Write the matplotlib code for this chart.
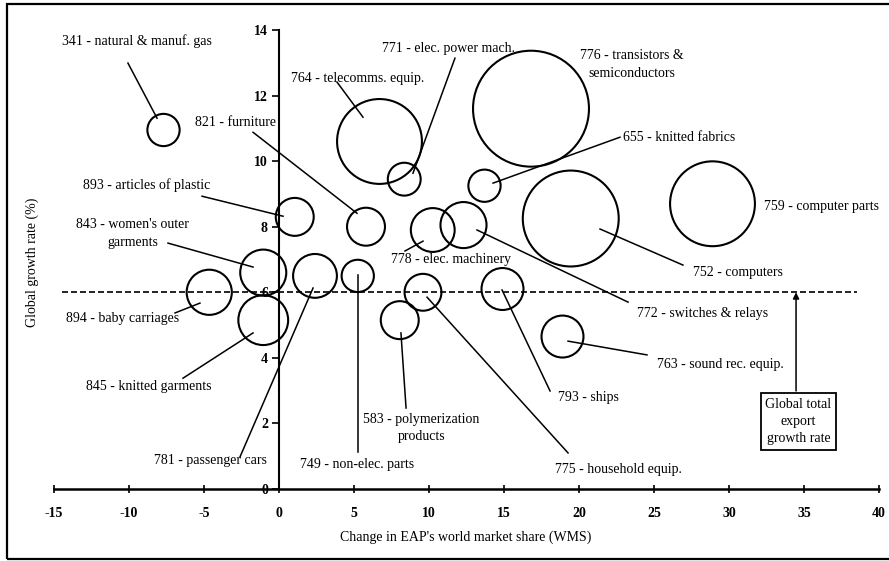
import matplotlib.pyplot as plt
import numpy as np

plt.rcParams['font.family'] = ['Liberation Serif', 'DejaVu Serif']
plt.rcParams['axes.unicode_minus'] = False

# product groups (SITC) - change in EAP world market share vs global growth rate
products = ['341 - natural & manuf. gas', '764 - telecomms. equip.', '771 - elec. power mach.',
            '776 - transistors &\nsemiconductors', '655 - knitted fabrics', '893 - articles of plastic',
            '821 - furniture', "843 - women's outer\ngarments", '894 - baby carriages',
            '845 - knitted garments', '781 - passenger cars', '749 - non-elec. parts',
            '583 - polymerization\nproducts', '775 - household equip.', '793 - ships',
            '763 - sound rec. equip.', '772 - switches & relays', '778 - elec. machinery',
            '752 - computers', '759 - computer parts']
wms_change = [-7.7, 6.7, 8.35, 16.8, 13.7, 1.05, 5.8, -1.05, -4.65,
              -1.05, 2.4, 5.25, 8.05, 9.6, 14.9, 18.9, 12.3, 10.25, 19.45, 28.9]
growth_rate = [10.95, 10.6, 9.45, 11.6, 9.25, 8.3, 8.0, 6.6, 6.0,
               5.15, 6.5, 6.5, 5.15, 6.0, 6.1, 4.65, 8.05, 7.9, 8.25, 8.7]
bubble_size = [0.26, 1.8, 0.27, 3.36, 0.26, 0.36, 0.36, 0.53, 0.51,
               0.62, 0.48, 0.26, 0.36, 0.34, 0.44, 0.44, 0.53, 0.48, 2.3, 1.8]
global_rate = 6.0

# label layout: text centre, leader start, leader end (data units)
label_pos = [(-9.45, 13.66), (5.25, 12.53), (11.3, 13.45), (23.55, 12.95), (26.7, 10.73),
             (-8.85, 9.27), (-2.9, 11.19), (-9.75, 7.8), (-10.4, 5.21), (-8.7, 3.14),
             (-4.6, 0.88), (5.2, 0.76), (9.5, 1.86), (22.6, 0.58), (20.6, 2.8),
             (29.4, 3.81), (28.25, 5.34), (11.45, 7.01), (30.6, 6.59), (36.4, 8.63)]
leaders = [((-10.07, 12.99), (-8.13, 11.31)), ((3.87, 12.41), (5.6, 11.34)),
           ((11.73, 13.14), (8.93, 9.63)), None, ((22.73, 10.73), (14.27, 9.33)),
           ((-5.13, 8.93), (0.27, 8.32)), ((-1.73, 10.88), (5.2, 8.41)),
           ((-7.4, 7.5), (-1.73, 6.77)), ((-6.93, 5.37), (-5.27, 5.67)),
           ((-6.4, 3.38), (-1.73, 4.76)), ((-2.6, 0.98), (2.27, 6.13)),
           ((5.27, 1.13), (5.27, 6.52)), ((8.47, 2.47), (8.13, 4.76)),
           ((19.27, 1.1), (9.87, 5.85)), ((18.07, 2.99), (14.87, 6.07)),
           ((24.53, 4.09), (19.27, 4.51)), ((23.27, 5.7), (13.2, 7.9)),
           ((8.4, 7.26), (9.6, 7.56)), ((26.93, 6.83), (21.4, 7.93)), None]

fig = plt.figure(figsize=(8.89, 5.61), dpi=100)
ax = fig.add_axes([54/889, 72/561, 825/889, 459/561])
ax.set_xlim(-15, 40)
ax.set_ylim(0, 14)

# bubble radius in px ~ sqrt(size)
r_pt = np.sqrt(np.array(bubble_size) * 1000) * 0.72
ax.scatter(wms_change, growth_rate, s=(2 * r_pt) ** 2, facecolors='none',
           edgecolors='black', linewidths=1.5, clip_on=False, zorder=3)

ax.plot([-14.5, 38.5], [global_rate, global_rate], color='black', lw=1.2,
        ls=(0, (3.6, 1.8)), zorder=2)

for name, (tx, ty), ld in zip(products, label_pos, leaders):
    ha = 'left' if name.startswith('759') else 'center'
    if ha == 'left':
        tx = 32.35
    ax.text(tx, ty, name, ha=ha, va='center', fontsize=10, linespacing=1.45,
            clip_on=False, zorder=4)
    if ld is not None:
        ax.plot([ld[0][0], ld[1][0]], [ld[0][1], ld[1][1]], color='black',
                lw=1.1, clip_on=False, zorder=4)

# annotation box for global rate
ax.annotate('', xy=(34.47, global_rate), xytext=(34.47, 2.99),
            arrowprops=dict(arrowstyle='-|>', color='black', lw=1.1,
                            mutation_scale=9, shrinkA=0, shrinkB=0))
ax.text(34.63, 2.06, 'Global total\nexport\ngrowth rate', ha='center', va='center',
        fontsize=10, linespacing=1.4,
        bbox=dict(boxstyle='square,pad=0.35', fc='white', ec='black', lw=1.3))

for s in ['top', 'right']:
    ax.spines[s].set_visible(False)
ax.spines['left'].set_position(('data', 0))
ax.spines['left'].set_linewidth(1.5)
ax.spines['bottom'].set_linewidth(1.8)
ax.set_xticks(range(-15, 41, 5))
ax.set_yticks(range(0, 15, 2))
ax.tick_params(axis='x', direction='inout', length=6, width=1.2, pad=10, labelsize=10)
ax.tick_params(axis='y', direction='out', length=5, width=1.2, pad=3, labelsize=10)
for lab in ax.get_xticklabels() + ax.get_yticklabels():
    lab.set_fontweight('bold')

fig.text(466/889, 1 - 537/561, "Change in EAP's world market share (WMS)",
         ha='center', va='center', fontsize=10)
fig.text(32/889, 1 - 262/561, 'Global growth rate (%)', ha='center', va='center',
         rotation=90, fontsize=10)

# outer frame
fig.add_artist(plt.Rectangle((7/889, 2/561), 890/889, 555/561, transform=fig.transFigure,
                             fill=False, ec='black', lw=1.6))

plt.savefig('out.png', dpi=100)
